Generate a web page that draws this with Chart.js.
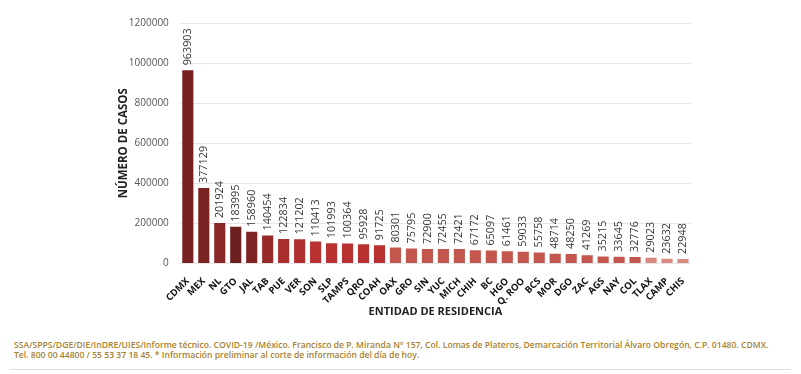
<!DOCTYPE html>
<html>
<head>
<meta charset="utf-8">
<script src="https://cdn.jsdelivr.net/npm/chart.js@4/dist/chart.umd.min.js"></script>
<style>
  body { margin: 0; background: #fff; width: 801px; height: 374px; overflow: hidden; font-family: "Open Sans", sans-serif; }
  #wrap { position: absolute; left: 0; top: 0; width: 801px; height: 325px; }
  #footer { position: absolute; left: 14px; top: 341px; font-size: 8.6px; line-height: 9.5px; color: #a6822f; font-weight: 600; white-space: nowrap; }
  #rule { position: absolute; left: 10px; right: 10px; top: 369px; border-top: 1px solid #ddd; }
</style>
</head>
<body>
<div id="wrap"><canvas id="casosChart"></canvas></div>
<div id="footer">SSA/SPPS/DGE/DIE/InDRE/UIES/Informe técnico. COVID-19 /México. Francisco de P. Miranda N° 157, Col. Lomas de Plateros, Demarcación Territorial Álvaro Obregón, C.P. 01480. CDMX.<br>Tel. 800 00 44800 / 55 53 37 18 45. * Información preliminar al corte de información del día de hoy.</div>
<div id="rule"></div>
<script>
const entidades = ["CDMX", "MEX", "NL", "GTO", "JAL", "TAB", "PUE", "VER", "SON", "SLP", "TAMPS", "QRO", "COAH", "OAX", "GRO", "SIN", "YUC", "MICH", "CHIH", "BC", "HGO", "Q. ROO", "BCS", "MOR", "DGO", "ZAC", "AGS", "NAY", "COL", "TLAX", "CAMP", "CHIS"];
const casos = [963903, 377129, 201924, 183995, 158960, 140454, 122834, 121202, 110413, 101993, 100364, 95928, 91725, 80301, 75795, 72900, 72455, 72421, 67172, 65097, 61461, 59033, 55758, 48714, 48250, 41269, 35215, 33645, 32776, 29023, 23632, 22948];
const colores = ["#762222", "#7b2323", "#8a2727", "#6c1f1f", "#7e2424", "#982a2a", "#a82d2d", "#b03030", "#b83232", "#b83232", "#b83232", "#b83232", "#b83232",
  "#c3574e", "#c3574e", "#c3574e", "#c3574e", "#c3574e", "#c3574e", "#c3574e", "#c3574e", "#c3574e", "#c3574e", "#c3574e", "#c3574e", "#c3574e", "#c3574e", "#c3574e", "#c3574e",
  "#d98a80", "#d98a80", "#d98a80"];

const valueLabels = {
    id: "valueLabels",
    afterDatasetsDraw(chart) {
        const ctx = chart.ctx;
        const meta = chart.getDatasetMeta(0);
        ctx.save();
        ctx.font = "10.8px 'Open Sans'";
        ctx.fillStyle = "#333";
        ctx.textAlign = "left";
        ctx.textBaseline = "middle";
        meta.data.forEach((bar, i) => {
            ctx.save();
            ctx.translate(bar.x, bar.y - 5);
            ctx.rotate(-Math.PI / 2);
            ctx.fillText(casos[i], 0, 0);
            ctx.restore();
        });
        ctx.restore();
    },
};

new Chart(document.getElementById("casosChart"), {
    type: "bar",
    data: {
        labels: entidades,
        datasets: [
            {
                data: casos,
                backgroundColor: colores,
                barPercentage: 0.85,
                categoryPercentage: 0.82,
            },
        ],
    },
    options: {
        responsive: true,
        maintainAspectRatio: false,
        animation: false,
        layout: { padding: { left: 104, right: 110, top: 23 } },
        plugins: {
            legend: { display: false },
            tooltip: { enabled: false },
        },
        scales: {
            y: {
                min: 0,
                max: 1200000,
                ticks: { stepSize: 200000, color: "#555", font: { family: "Open Sans", size: 10 }, padding: 11, callback: (v) => String(v) },
                grid: { color: "#e6e6e6", drawTicks: false },
                border: { display: false },
                title: { display: true, text: "NÚMERO DE CASOS", color: "#222", font: { family: "Open Sans", size: 11.5, weight: "bold" }, padding: { top: 13, bottom: -13 } },
            },
            x: {
                ticks: { minRotation: 45, maxRotation: 45, color: "#111", font: { family: "Open Sans", size: 9.5, weight: "bold" }, padding: 4, autoSkip: false },
                grid: { display: false },
                border: { display: false },
                title: { display: true, text: "ENTIDAD DE RESIDENCIA", color: "#222", font: { family: "Open Sans", size: 11, weight: "bold" }, padding: { top: -7, bottom: 7 } },
            },
        },
    },
    plugins: [valueLabels],
});
</script>
</body>
</html>
